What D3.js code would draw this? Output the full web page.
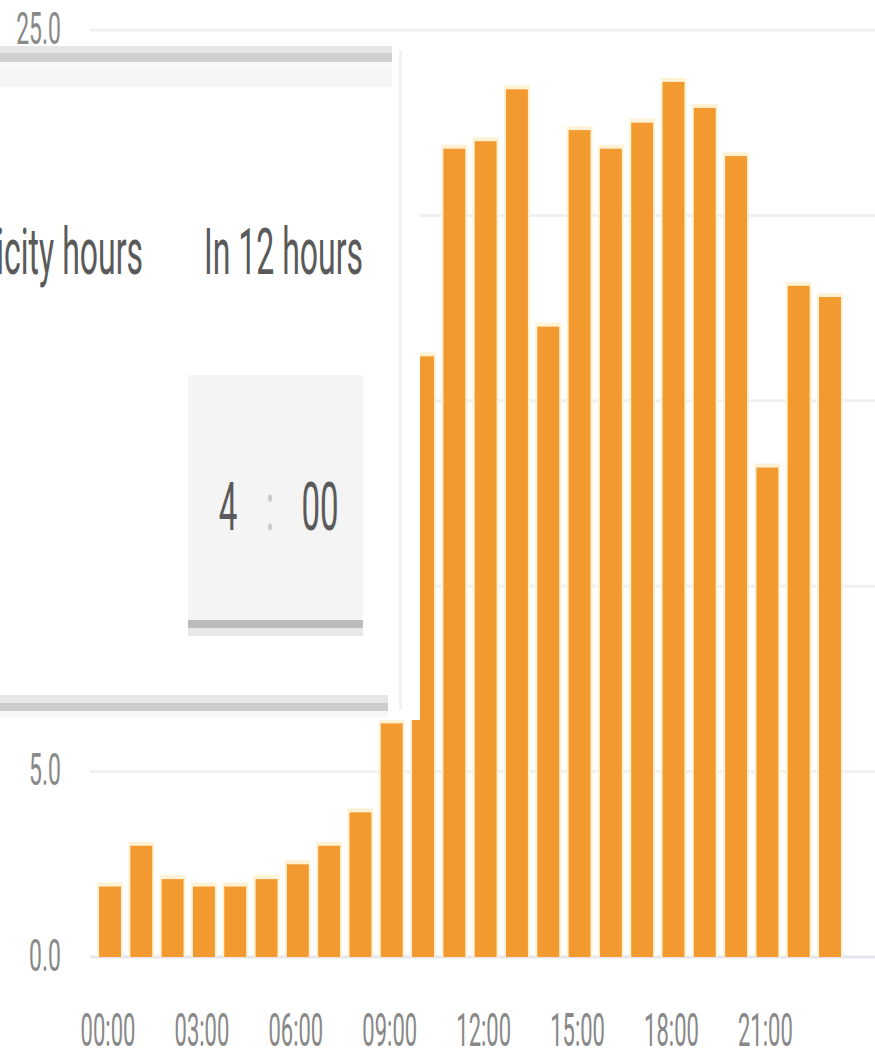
<!DOCTYPE html>
<html>
<head>
<meta charset="utf-8">
<script src="https://cdn.jsdelivr.net/npm/d3@7"></script>
<style>
  html, body { margin: 0; padding: 0; background: #ffffff; }
  svg { display: block; }
</style>
</head>
<body>
<svg id="chart" width="875" height="1058"></svg>
<script>
// ---- data ----
const hours = ["00:00","01:00","02:00","03:00","04:00","05:00","06:00","07:00",
               "08:00","09:00","10:00","11:00","12:00","13:00","14:00","15:00",
               "16:00","17:00","18:00","19:00","20:00","21:00","22:00","23:00"];
const values = [1.9, 3.0, 2.1, 1.9, 1.9, 2.1, 2.5, 3.0, 3.9, 6.3, 16.2, 21.8,
                22.0, 23.4, 17.0, 22.3, 21.8, 22.5, 23.6, 22.9, 21.6, 13.2, 18.1, 17.8];
const yTicks = [0, 5, 10, 15, 20, 25];
const yTickLabels = [0, 5, 25];          // the others sit under the card
const xTickLabels = ["00:00","03:00","06:00","09:00","12:00","15:00","18:00","21:00"];
const cardTitleLeft = "Electricity hours";
const cardTitleRight = "In 12 hours";
const timeHour = "4";
const timeSep = ":";
const timeMin = "00";

// ---- layout ----
const svg = d3.select("#chart");
const step = 720 / 23;
const x = d3.scaleBand()
  .domain(hours)
  .range([110 - step / 2, 830 + step / 2])
  .paddingInner(0.3)
  .paddingOuter(0.15);
const y = d3.scaleLinear().domain([0, 25]).range([957, 30]);

// gridlines
svg.append("g").selectAll("line")
  .data(yTicks)
  .join("line")
  .attr("x1", 90).attr("x2", 875)
  .attr("y1", d => y(d)).attr("y2", d => y(d))
  .attr("stroke", d => d === 0 ? "#e6e4ee" : "#f0f0f0")
  .attr("stroke-width", 3);

// bar halos (soft pale edge)
svg.append("g").selectAll("rect")
  .data(values)
  .join("rect")
  .attr("x", (d, i) => x(hours[i]) - 2)
  .attr("width", x.bandwidth() + 4)
  .attr("y", d => y(d) - 4)
  .attr("height", d => y(0) - y(d) + 4)
  .attr("fill", "#fff2d4");

// bars
svg.append("g").selectAll("rect")
  .data(values)
  .join("rect")
  .attr("x", (d, i) => x(hours[i]))
  .attr("width", x.bandwidth())
  .attr("y", d => y(d))
  .attr("height", d => y(0) - y(d))
  .attr("fill", "#f29a30");

// y axis
const yAxis = svg.append("g")
  .attr("transform", "translate(61,0)")
  .call(d3.axisLeft(y).tickValues(yTickLabels).tickFormat(d3.format(".1f")).tickSize(0).tickPadding(0));
yAxis.select(".domain").remove();
yAxis.selectAll("text")
  .attr("x", 0).attr("dy", null).attr("y", 0)
  .attr("transform", "translate(0,13) scale(1,1.9)")
  .attr("font-family", "Roboto, sans-serif")
  .attr("font-size", 23)
  .attr("fill", "#888888");

// x axis
const xAxis = svg.append("g")
  .attr("transform", `translate(0,${y(0)})`)
  .call(d3.axisBottom(x).tickValues(xTickLabels).tickSize(0).tickPadding(0));
xAxis.select(".domain").remove();
xAxis.selectAll("text")
  .attr("y", 0).attr("dy", null)
  .attr("transform", "translate(-2,89) scale(1,2.1)")
  .attr("font-family", "Roboto, sans-serif")
  .attr("font-size", 22)
  .attr("fill", "#888888");

// ---- overlay card ----
const card = svg.append("g");
card.append("rect").attr("x", -10).attr("y", 46).attr("width", 430).attr("height", 674).attr("fill", "#ffffff");
card.append("rect").attr("x", 399).attr("y", 50).attr("width", 3).attr("height", 660).attr("fill", "#f2f2f2");
const topBands = [[46, 7, "#e5e5e5"], [53, 9, "#d0d0d0"], [62, 8, "#f9f9f9"], [70, 17, "#f5f5f5"]];
card.selectAll("rect.tb").data(topBands).join("rect").attr("class", "tb")
  .attr("x", 0).attr("width", 392).attr("y", d => d[0]).attr("height", d => d[1]).attr("fill", d => d[2]);
const botBands = [[695, 8, "#e6e6e6"], [703, 8, "#cccccc"], [711, 7, "#f8f8f8"]];
card.selectAll("rect.bb").data(botBands).join("rect").attr("class", "bb")
  .attr("x", 0).attr("width", 388).attr("y", d => d[0]).attr("height", d => d[1]).attr("fill", d => d[2]);

// titles
card.append("g").attr("transform", "translate(143,274) scale(1,2)")
  .append("text").attr("text-anchor", "end")
  .attr("font-family", "Roboto, sans-serif").attr("font-size", 32).attr("fill", "#5a5a5a")
  .text(cardTitleLeft);
card.append("g").attr("transform", "translate(363,274) scale(1,2)")
  .append("text").attr("text-anchor", "end")
  .attr("font-family", "Roboto, sans-serif").attr("font-size", 32).attr("fill", "#5a5a5a")
  .text(cardTitleRight);

// time box
card.append("rect").attr("x", 188).attr("y", 375).attr("width", 175).attr("height", 245).attr("fill", "#f4f4f4");
card.append("rect").attr("x", 188).attr("y", 620).attr("width", 175).attr("height", 8).attr("fill", "#bbbbbb");
card.append("rect").attr("x", 188).attr("y", 628).attr("width", 175).attr("height", 8).attr("fill", "#e8e8e8");

const tf = [[228, timeHour, "#5a5a5a"], [270, timeSep, "#c8c8c8"], [320, timeMin, "#5a5a5a"]];
tf.forEach(([cx, t, c]) => {
  card.append("g").attr("transform", `translate(${cx},530) scale(1,2)`)
    .append("text").attr("text-anchor", "middle")
    .attr("font-family", "Roboto, sans-serif").attr("font-size", 33).attr("fill", c)
    .text(t);
});
</script>
</body>
</html>
